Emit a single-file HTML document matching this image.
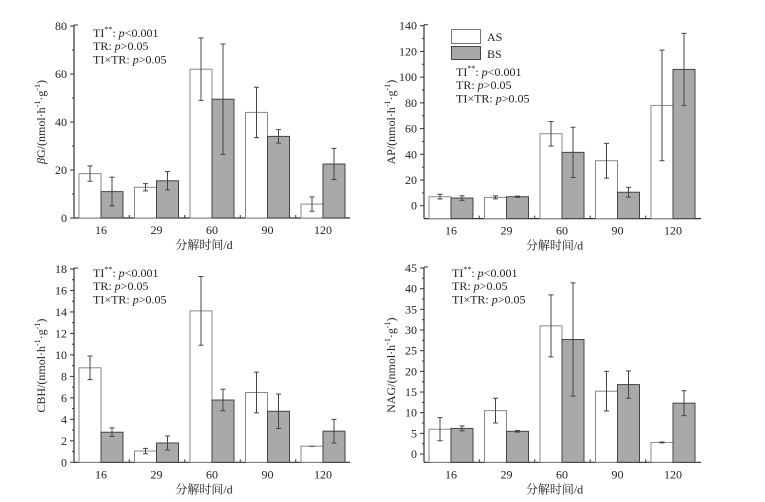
<!DOCTYPE html>
<html><head><meta charset="utf-8">
<style>
html,body{margin:0;padding:0;background:#fff;}
svg{display:block;}
text{font-family:"Liberation Serif","Noto Serif CJK SC",serif;fill:#222;}
</style></head>
<body>
<svg id="chart" width="765" height="502" viewBox="0 0 765 502" xmlns="http://www.w3.org/2000/svg"></svg>
<script>
const categories = ["16","29","60","90","120"];
const bgAS = [18.5, 12.8, 62, 44, 5.8];
const bgASerr = [3.2, 1.5, 13, 10.5, 3];
const bgBS = [11, 15.5, 49.5, 34, 22.5];
const bgBSerr = [6, 3.8, 23, 2.8, 6.5];
const apAS = [7, 6.5, 56, 35, 78];
const apASerr = [1.8, 1.2, 9.5, 13.5, 43];
const apBS = [6, 7, 41.5, 10.5, 106];
const apBSerr = [1.8, 0.5, 19.5, 3.8, 28];
const cbhAS = [8.8, 1.05, 14.1, 6.5, 1.5];
const cbhASerr = [1.1, 0.25, 3.2, 1.9, 0];
const cbhBS = [2.8, 1.8, 5.8, 4.75, 2.9];
const cbhBSerr = [0.4, 0.65, 1.0, 1.6, 1.1];
const nagAS = [6, 10.5, 31, 15.2, 2.8];
const nagASerr = [2.8, 3, 7.5, 4.8, 0.1];
const nagBS = [6.2, 5.5, 27.7, 16.8, 12.3];
const nagBSerr = [0.6, 0.2, 13.7, 3.3, 3];
const bgTicks = [0,20,40,60,80];
const apTicks = [0,20,40,60,80,100,120,140];
const cbhTicks = [0,2,4,6,8,10,12,14,16,18];
const nagTicks = [0,5,10,15,20,25,30,35,40,45];

const svg = document.getElementById('chart');
const NS = 'http://www.w3.org/2000/svg';
function mk(tag, attrs, parent){const e=document.createElementNS(NS,tag);for(const k in attrs)e.setAttribute(k,attrs[k]);(parent||svg).appendChild(e);return e;}

function panel(p){
  const g = mk('g',{});
  
  
  const y = v => p.y0 - (v - p.vmin) * (p.y0 - p.yTop) / (p.vmax - p.vmin);
  const step = 55.5, bw = 22;
  const cx = i => p.x0 + 27 + i*step;
  // axes
  const ax = mk('line',{x1:p.x0,y1:p.yTop-1,x2:p.x0,y2:p.y0,stroke:'#333','stroke-width':1.2},g);
  
  
  const axx = mk('line',{x1:p.x0,y1:p.y0,x2:p.x1,y2:p.y0,stroke:'#333','stroke-width':1.2},g);
  
  
  mk('line',{x1:p.x0,y1:p.yTop-1,x2:p.x0+4,y2:p.yTop-1,stroke:'#333'},g);
  p.ticks.forEach((t,k)=>{
    const ty=y(t);
    mk('line',{x1:p.x0-4,y1:ty,x2:p.x0,y2:ty,stroke:'#333'},g);
    if(k<p.ticks.length-1){const my=y((t+p.ticks[k+1])/2);mk('line',{x1:p.x0-2,y1:my,x2:p.x0,y2:my,stroke:'#333'},g);}
    const tl=mk('text',{x:p.x0-7,y:ty+4,'text-anchor':'end','font-size':12},g);
    tl.textContent=t;
    
    
  });
  for(let i=0;i<=categories.length;i++){
    const bx=p.x0+27-step/2+i*step+0.5;
    if(bx>p.x0+2&&bx<p.x1) mk('line',{x1:bx,y1:p.y0-3,x2:bx,y2:p.y0,stroke:'#333'},g);
  }
  categories.forEach((c,i)=>{
    const xl=mk('text',{x:cx(i),y:p.y0+16,'text-anchor':'middle','font-size':12},g);
    xl.textContent=c;
    
    
    [[p.as,p.asErr,'#fff','#888',cx(i)-bw,'as'],[p.bs,p.bsErr,'#a9a9a9','#444',cx(i),'bs']].forEach(s=>{
      const v=s[0][i], e=s[1][i], top=y(v);
      const r=mk('rect',{x:s[4],y:top,width:bw,height:p.y0-top,fill:s[2],stroke:s[3],'stroke-width':1},g);
      
      
      const mx=s[4]+bw/2, y1=y(v+e), y2=y(v-e);
      const eb=mk('path',{d:`M${mx},${y1}V${y2}M${mx-2.5},${y1}H${mx+2.5}M${mx-2.5},${y2}H${mx+2.5}`,stroke:'#444',fill:'none','stroke-width':1},g);
      
      
    });
  });
  const xt=mk('text',{x:(p.x0+p.x1)/2-8,y:p.y0+31,'text-anchor':'middle','font-size':12},g);
  xt.textContent='分解时间/d';
  
  
  const yt=mk('text',{x:0,y:0,'text-anchor':'middle','font-size':12,transform:`translate(${p.x0-29},${(p.yTop+p.y0)/2}) rotate(-90)`},g);
  yt.innerHTML=p.ytitle;
  
  
  const st=mk('text',{x:p.sx,y:p.sy,'font-size':12},g);
  st.innerHTML=`<tspan x="${p.sx}" y="${p.sy}">TI<tspan font-size="8" dy="-5">**</tspan><tspan dy="5">: </tspan><tspan font-style="italic">p</tspan>&lt;0.001</tspan><tspan x="${p.sx}" y="${p.sy+13}">TR: <tspan font-style="italic">p</tspan>&gt;0.05</tspan><tspan x="${p.sx}" y="${p.sy+26.5}">TI×TR: <tspan font-style="italic">p</tspan>&gt;0.05</tspan>`;
  
  
}
const unit = '/(nmol·h<tspan font-size="8" dy="-5">-1</tspan><tspan dy="5">·g</tspan><tspan font-size="8" dy="-5">-1</tspan><tspan dy="5">)</tspan>';
panel({name:'bg-panel',x0:74,x1:350,yTop:26,y0:218,vmin:0,vmax:80,ticks:bgTicks,as:bgAS,asErr:bgASerr,bs:bgBS,bsErr:bgBSerr,ytitle:'<tspan font-style="italic">β</tspan>G'+unit,sx:93,sy:37});
panel({name:'ap-panel',x0:424,x1:701,yTop:25.7,y0:218.6,vmin:-10,vmax:140,ticks:apTicks,as:apAS,asErr:apASerr,bs:apBS,bsErr:apBSerr,ytitle:'AP'+unit,sx:456,sy:76});
panel({name:'cbh-panel',x0:74,x1:350,yTop:269,y0:462.3,vmin:0,vmax:18,ticks:cbhTicks,as:cbhAS,asErr:cbhASerr,bs:cbhBS,bsErr:cbhBSerr,ytitle:'CBH'+unit,sx:93,sy:277});
panel({name:'nag-panel',x0:424,x1:701,yTop:268,y0:462.3,vmin:-2,vmax:45,ticks:nagTicks,as:nagAS,asErr:nagASerr,bs:nagBS,bsErr:nagBSerr,ytitle:'NAG'+unit,sx:452,sy:277});
// legend
const lg=mk('g',{});


const l1=mk('rect',{x:451.5,y:29.5,width:29,height:14,fill:'#fff',stroke:'#777'},lg);


const l2=mk('rect',{x:451.5,y:46.5,width:29,height:13,fill:'#a9a9a9',stroke:'#444'},lg);


const t1=mk('text',{x:487,y:41,'font-size':12},lg);t1.textContent='AS';


const t2=mk('text',{x:487,y:58,'font-size':12},lg);t2.textContent='BS';


</script>
</body></html>
